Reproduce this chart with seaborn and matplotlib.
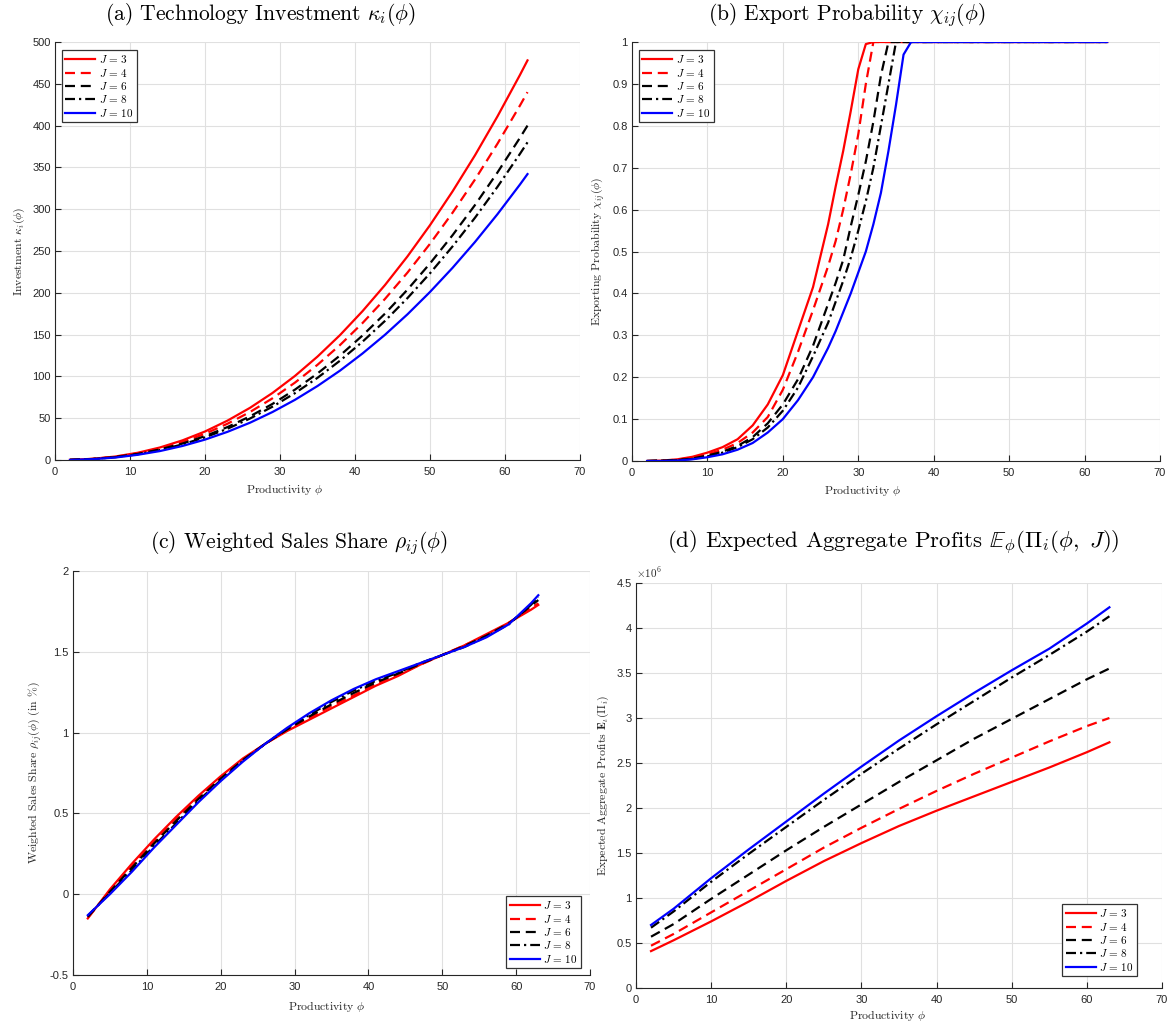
import numpy as np
import pandas as pd
import matplotlib
matplotlib.use("Agg")
import matplotlib.pyplot as plt
from matplotlib.ticker import FuncFormatter
import seaborn as sns

# ---------------- data ----------------
J_labels = [r"$J\,=\,3$", r"$J\,=\,4$", r"$J\,=\,6$", r"$J\,=\,8$", r"$J\,=\,10$"]
colors = ["#FF0000", "#FF0000", "#000000", "#000000", "#0000FF"]

# (a) technology investment
phi_a = [2, 5, 8, 11, 14, 17, 20, 23, 26, 29, 32, 35, 38, 41, 44, 47, 50, 53, 56, 59, 62, 63]
kappa_J3 = [0.2, 1.4, 4.1, 8.6, 15.0, 23.5, 34.1, 47.1, 62.4, 80.2, 100.6, 123.7, 149.4, 178.0, 209.3, 243.6, 280.9, 321.2, 364.5, 411.1, 460.7, 478]
kappa_J4 = [0.2, 1.3, 3.8, 7.9, 13.8, 21.6, 31.4, 43.4, 57.4, 73.8, 92.6, 113.9, 137.5, 163.8, 192.7, 224.2, 258.6, 295.7, 335.5, 378.4, 424.1, 440]
kappa_J6 = [0.2, 1.2, 3.4, 7.2, 12.6, 19.7, 28.5, 39.4, 52.2, 67.1, 84.2, 103.5, 125.0, 148.9, 175.1, 203.8, 235.1, 268.8, 305.0, 344.0, 385.5, 400]
kappa_J8 = [0.1, 1.1, 3.3, 6.8, 11.9, 18.7, 27.1, 37.4, 49.6, 63.8, 80.0, 98.3, 118.8, 141.5, 166.4, 193.7, 223.3, 255.4, 289.8, 326.8, 366.3, 380]
kappa_J10 = [0.1, 1.0, 2.9, 6.2, 10.7, 16.8, 24.4, 33.7, 44.6, 57.4, 72.0, 88.5, 106.9, 127.4, 149.8, 174.3, 201.0, 229.8, 260.8, 294.1, 329.6, 342]

# (b) export probability
phi_b = [2, 4, 6, 8, 10, 12, 14, 16, 18, 20, 22, 24, 26, 27, 28, 29, 30, 31, 32, 33, 34, 35, 36, 37, 38, 63]
chi_J3 = [0, 0.001, 0.004, 0.01, 0.02, 0.033, 0.052, 0.085, 0.135, 0.205, 0.31, 0.415, 0.565, 0.655, 0.74, 0.835, 0.935, 0.995, 1, 1, 1, 1, 1, 1, 1, 1]
chi_J4 = [0, 0.001, 0.003, 0.008, 0.016, 0.027, 0.043, 0.068, 0.105, 0.17, 0.26, 0.36, 0.465, 0.525, 0.60, 0.685, 0.78, 0.90, 1, 1, 1, 1, 1, 1, 1, 1]
chi_J6 = [0, 0.001, 0.002, 0.006, 0.013, 0.022, 0.036, 0.057, 0.09, 0.135, 0.195, 0.275, 0.375, 0.425, 0.48, 0.56, 0.635, 0.715, 0.81, 0.92, 1, 1, 1, 1, 1, 1]
chi_J8 = [0, 0.001, 0.002, 0.005, 0.011, 0.02, 0.033, 0.052, 0.08, 0.12, 0.175, 0.25, 0.33, 0.38, 0.43, 0.485, 0.55, 0.62, 0.70, 0.80, 0.90, 1, 1, 1, 1, 1]
chi_J10 = [0, 0, 0.001, 0.004, 0.009, 0.016, 0.027, 0.043, 0.068, 0.10, 0.145, 0.20, 0.27, 0.31, 0.355, 0.40, 0.45, 0.50, 0.565, 0.64, 0.74, 0.85, 0.97, 1, 1, 1]

# (c) weighted sales share (in %)
phi_c = [2, 5, 8, 11, 14, 17, 20, 23, 26, 29, 32, 35, 38, 41, 44, 47, 50, 53, 56, 59, 62, 63]
rho_J3 = [-0.15, 0.03, 0.19, 0.34, 0.48, 0.61, 0.73, 0.84, 0.93, 1.01, 1.08, 1.15, 1.22, 1.29, 1.35, 1.42, 1.48, 1.54, 1.61, 1.68, 1.76, 1.79]
rho_J4 = [-0.145, 0.02, 0.18, 0.33, 0.47, 0.60, 0.72, 0.83, 0.93, 1.015, 1.09, 1.165, 1.23, 1.30, 1.36, 1.42, 1.48, 1.54, 1.60, 1.68, 1.77, 1.80]
rho_J6 = [-0.14, 0.015, 0.165, 0.315, 0.455, 0.59, 0.715, 0.83, 0.93, 1.02, 1.10, 1.175, 1.245, 1.31, 1.365, 1.425, 1.48, 1.535, 1.60, 1.675, 1.785, 1.82]
rho_J8 = [-0.135, 0.008, 0.15, 0.30, 0.44, 0.58, 0.705, 0.825, 0.93, 1.025, 1.11, 1.19, 1.26, 1.32, 1.37, 1.43, 1.48, 1.53, 1.595, 1.67, 1.79, 1.84]
rho_J10 = [-0.13, 0.0, 0.14, 0.29, 0.43, 0.57, 0.70, 0.82, 0.93, 1.03, 1.12, 1.20, 1.27, 1.33, 1.38, 1.43, 1.48, 1.53, 1.59, 1.67, 1.80, 1.85]

# (d) expected aggregate profits (in units of 1e6)
phi_d = [2, 5, 10, 15, 20, 25, 30, 35, 40, 45, 50, 55, 60, 63]
prof_J3 = [0.41, 0.53, 0.74, 0.96, 1.19, 1.41, 1.61, 1.80, 1.97, 2.13, 2.29, 2.45, 2.62, 2.73]
prof_J4 = [0.47, 0.60, 0.84, 1.08, 1.32, 1.56, 1.78, 1.99, 2.19, 2.38, 2.56, 2.74, 2.91, 3.00]
prof_J6 = [0.57, 0.71, 0.99, 1.26, 1.53, 1.79, 2.04, 2.29, 2.53, 2.77, 2.99, 3.21, 3.43, 3.55]
prof_J8 = [0.67, 0.85, 1.18, 1.49, 1.79, 2.09, 2.38, 2.66, 2.93, 3.19, 3.45, 3.70, 3.96, 4.13]
prof_J10 = [0.70, 0.88, 1.22, 1.54, 1.85, 2.16, 2.46, 2.75, 3.02, 3.28, 3.53, 3.77, 4.05, 4.23]
prof_scale = 1e6

# ---------------- style ----------------
plt.rcParams["font.family"] = ["Liberation Sans", "DejaVu Sans"]
plt.rcParams["mathtext.fontset"] = "cm"
plt.rcParams["axes.unicode_minus"] = False

DARK = "#262626"
GRID = "#e0e0e0"
SERIF = "cmr10"
LW = 1.6
dash_styles = [(None, None), (4.5, 2.6), (4.5, 2.6), (4.5, 1.8, 1, 1.8), (None, None)]

fig = plt.figure(figsize=(11.76, 10.26), dpi=100)
W, H = 1176, 1026


def make_ax(l, r, t, b):
    return fig.add_axes([l / W, 1 - b / H, (r - l) / W, (b - t) / H])


def style_ax(ax, xlabel, ylabel, xlab_x, xlab_gap):
    for s in ["top", "right"]:
        ax.spines[s].set_visible(False)
    for s in ["left", "bottom"]:
        ax.spines[s].set_color(DARK)
        ax.spines[s].set_linewidth(0.8)
    ax.tick_params(direction="in", length=4, width=0.8, colors=DARK,
                   labelsize=8, pad=3)
    ax.tick_params(axis="x", pad=5)
    ax.grid(True, color=GRID, linewidth=0.8)
    ax.set_axisbelow(True)
    ax.set_xlabel(xlabel, fontsize=8.5, family=SERIF, color=DARK)
    ax.set_ylabel(ylabel, fontsize=8.5, family=SERIF, color=DARK, labelpad=4)
    h_px = ax.get_position().height * H
    ax.xaxis.set_label_coords(xlab_x, -xlab_gap / h_px)


def draw(ax, x, ys, scale=1.0):
    for y, lab, c, d in zip(ys, J_labels, colors, dash_styles):
        sns.lineplot(x=x, y=np.asarray(y) * scale, ax=ax, color=c,
                     linewidth=LW, label=lab)
        line = ax.get_lines()[-1]
        if d[0] is not None:
            line.set_dashes(d)


def legend(ax, loc, dx_px, dy_px):
    pos = ax.get_position()
    w, h = pos.width * W, pos.height * H
    if loc == "upper left":
        anchor = (dx_px / w, 1 - dy_px / h)
    else:
        anchor = (1 - dx_px / w, dy_px / h)
    leg = ax.legend(loc=loc, bbox_to_anchor=anchor, fontsize=8,
                    fancybox=False, framealpha=1, edgecolor="#333333",
                    handlelength=2.7, handletextpad=0.3, borderpad=0.3,
                    labelspacing=0.12, borderaxespad=0.0)
    leg.get_frame().set_linewidth(0.9)


def fmt_plain(v, pos):
    s = ("%.2f" % v).rstrip("0").rstrip(".")
    return "0" if s in ("-0", "0") else s


def fmt_scaled(v, pos):
    return fmt_plain(v / prof_scale, pos)


def title(x, y, txt, size=15.5):
    fig.text(x / W, 1 - y / H, txt, fontsize=size, family=SERIF,
             ha="center", va="center")


# (a)
ax = make_ax(55, 580, 42, 460)
draw(ax, phi_a, [kappa_J3, kappa_J4, kappa_J6, kappa_J8, kappa_J10])
ax.set_xlim(0, 70)
ax.set_ylim(0, 500)
ax.set_xticks(np.arange(0, 71, 10))
ax.set_yticks(np.arange(0, 501, 50))
style_ax(ax, r"Productivity $\phi$", r"Investment $\kappa_i(\phi)$", 0.438, 22)
legend(ax, "upper left", 7, 8)
title(260, 15, r"(a) Technology Investment $\kappa_i(\phi)$")

# (b)
ax = make_ax(632, 1160, 42, 461)
draw(ax, phi_b, [chi_J3, chi_J4, chi_J6, chi_J8, chi_J10])
ax.set_xlim(0, 70)
ax.set_ylim(0, 1)
ax.set_xticks(np.arange(0, 71, 10))
ax.set_yticks(np.round(np.arange(0, 1.01, 0.1), 1))
ax.yaxis.set_major_formatter(FuncFormatter(fmt_plain))
style_ax(ax, r"Productivity $\phi$", r"Exporting Probability $\chi_{ij}(\phi)$", 0.4375, 22)
legend(ax, "upper left", 7, 8)
title(847, 15, r"(b) Export Probability $\chi_{ij}(\phi)$")

# (c)
ax = make_ax(73, 590, 571, 975)
draw(ax, phi_c, [rho_J3, rho_J4, rho_J6, rho_J8, rho_J10])
ax.set_xlim(0, 70)
ax.set_ylim(-0.5, 2)
ax.set_xticks(np.arange(0, 71, 10))
ax.set_yticks([-0.5, 0, 0.5, 1, 1.5, 2])
ax.yaxis.set_major_formatter(FuncFormatter(fmt_plain))
style_ax(ax, r"Productivity $\phi$", r"Weighted Sales Share $\rho_{ij}(\phi)$ (in %)", 0.491, 24)
legend(ax, "lower right", 9, 7)
title(299, 543, r"(c) Weighted Sales Share $\rho_{ij}(\phi)$")

# (d)
ax = make_ax(636, 1162, 583, 988)
draw(ax, phi_d, [prof_J3, prof_J4, prof_J6, prof_J8, prof_J10], scale=prof_scale)
ax.set_xlim(0, 70)
ax.set_ylim(0, 4.5 * prof_scale)
ax.set_xticks(np.arange(0, 71, 10))
ax.set_yticks(np.arange(0, 4.51, 0.5) * prof_scale)
ax.yaxis.set_major_formatter(FuncFormatter(fmt_scaled))
style_ax(ax, r"Productivity $\phi$", r"Expected Aggregate Profits $\mathbf{E}_\iota(\Pi_i)$", 0.479, 20)
ax.text(0.0, 1.008, r"$\times10^{6}$", transform=ax.transAxes, fontsize=8,
        color=DARK, ha="left", va="bottom")
legend(ax, "lower right", 25, 12)
title(893, 543, r"(d) Expected Aggregate Profits $\mathbb{E}_{\phi}(\Pi_i(\phi,\ J))$", 16.5)

fig.savefig("out.png", dpi=100)
